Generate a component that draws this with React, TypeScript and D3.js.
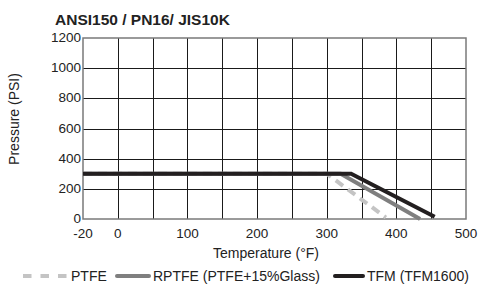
import React, { useEffect, useRef } from 'react';
import * as d3 from 'd3';

const title = 'ANSI150 / PN16/ JIS10K';
const xTicks = [-20, 0, 100, 200, 300, 400, 500];
const xGrid = [-20, 0, 50, 100, 150, 200, 250, 300, 350, 400, 450, 500];
const yTicks = [0, 200, 400, 600, 800, 1000, 1200];

const ptfe: [number, number][] = [[-20, 300], [300, 300], [385, 10]];
const rptfe: [number, number][] = [[-20, 300], [320, 300], [434, 0]];
const tfm: [number, number][] = [[-20, 300], [335, 300], [455, 15]];

const series = [
  { name: 'PTFE', data: ptfe, color: '#c4c4c4', dash: '9,6' },
  { name: 'RPTFE (PTFE+15%Glass)', data: rptfe, color: '#7f7f7f', dash: null },
  { name: 'TFM (TFM1600)', data: tfm, color: '#231f20', dash: null },
];

const W = 479;
const H = 284;

const App: React.FC = () => {
  const svgRef = useRef<SVGSVGElement>(null);

  useEffect(() => {
    if (!svgRef.current) return;
    const svg = d3.select(svgRef.current);
    svg.selectAll('*').remove();

    const left = 83, right = 466, top = 38, bottom = 219;

    // axis is not linear: -20..0 takes the same width as a 50 step
    const x = d3.scaleLinear().domain([-20, 0, 500]).range([left, left + (right - left) / 11, right]);
    const y = d3.scaleLinear().domain([0, 1200]).range([bottom, top]);

    const font = 'Liberation Sans, Arial, sans-serif';

    // Grid
    const grid = svg.append('g');
    grid.selectAll('.vg')
      .data(xGrid.slice(1, -1))
      .enter()
      .append('line')
      .attr('x1', d => Math.round(x(d)) + 0.5)
      .attr('x2', d => Math.round(x(d)) + 0.5)
      .attr('y1', top)
      .attr('y2', bottom)
      .attr('stroke', '#1a1a1a')
      .attr('stroke-width', 1);
    grid.selectAll('.hg')
      .data(yTicks.slice(1, -1))
      .enter()
      .append('line')
      .attr('x1', left)
      .attr('x2', right)
      .attr('y1', d => Math.round(y(d)) + 0.5)
      .attr('y2', d => Math.round(y(d)) + 0.5)
      .attr('stroke', '#1a1a1a')
      .attr('stroke-width', 1);

    // Frame
    svg.append('rect')
      .attr('x', left)
      .attr('y', top)
      .attr('width', right - left)
      .attr('height', bottom - top)
      .attr('fill', 'none')
      .attr('stroke', '#7a7a7a')
      .attr('stroke-width', 1.5);

    // Lines
    const line = d3.line<[number, number]>()
      .x(d => x(d[0]))
      .y(d => y(d[1]));

    series.forEach(s => {
      svg.append('path')
        .datum(s.data)
        .attr('d', line)
        .attr('fill', 'none')
        .attr('stroke', s.color)
        .attr('stroke-width', 4)
        .attr('stroke-dasharray', s.dash)
        .attr('stroke-linejoin', 'miter');
    });

    // Tick labels
    svg.selectAll('.xt')
      .data(xTicks)
      .enter()
      .append('text')
      .attr('x', d => x(d))
      .attr('y', 238)
      .attr('text-anchor', 'middle')
      .style('font-family', font)
      .style('font-size', '13.5px')
      .attr('fill', '#222')
      .text(d => d);

    svg.selectAll('.yt')
      .data(yTicks)
      .enter()
      .append('text')
      .attr('x', left - 2)
      .attr('y', d => y(d) + 4)
      .attr('text-anchor', 'end')
      .style('font-family', font)
      .style('font-size', '13.5px')
      .attr('fill', '#222')
      .text(d => d);

    // Axis titles
    svg.append('text')
      .attr('x', 266)
      .attr('y', 258)
      .attr('text-anchor', 'middle')
      .style('font-family', font)
      .style('font-size', '14px')
      .attr('fill', '#222')
      .text('Temperature (°F)');

    svg.append('text')
      .attr('transform', 'translate(19,119) rotate(-90)')
      .attr('text-anchor', 'middle')
      .style('font-family', font)
      .style('font-size', '14px')
      .attr('fill', '#222')
      .text('Pressure (PSI)');

    svg.append('text')
      .attr('x', 55)
      .attr('y', 25)
      .style('font-family', font)
      .style('font-size', '15.5px')
      .style('font-weight', 'bold')
      .attr('fill', '#222')
      .text(title);

    // Legend
    const legendPos = [
      { x1: 23, x2: 67 },
      { x1: 117, x2: 149 },
      { x1: 335, x2: 363 },
    ];
    const ly = 276;
    series.forEach((s, i) => {
      const p = legendPos[i];
      svg.append('line')
        .attr('x1', p.x1)
        .attr('x2', p.x2)
        .attr('y1', ly)
        .attr('y2', ly)
        .attr('stroke', s.color)
        .attr('stroke-width', 4)
        .attr('stroke-dasharray', s.dash ? '8.5,9' : null)
        .attr('stroke-linecap', s.dash ? 'butt' : 'round');
      svg.append('text')
        .attr('x', p.x2 + 4)
        .attr('y', ly + 5)
        .style('font-family', font)
        .style('font-size', '14px')
        .attr('fill', '#222')
        .text(s.name);
    });
  }, []);

  return (
    <svg
      ref={svgRef}
      width={W}
      height={H}
      style={{ position: 'absolute', left: 0, top: 0, background: '#fff' }}
    />
  );
};

export default App;
